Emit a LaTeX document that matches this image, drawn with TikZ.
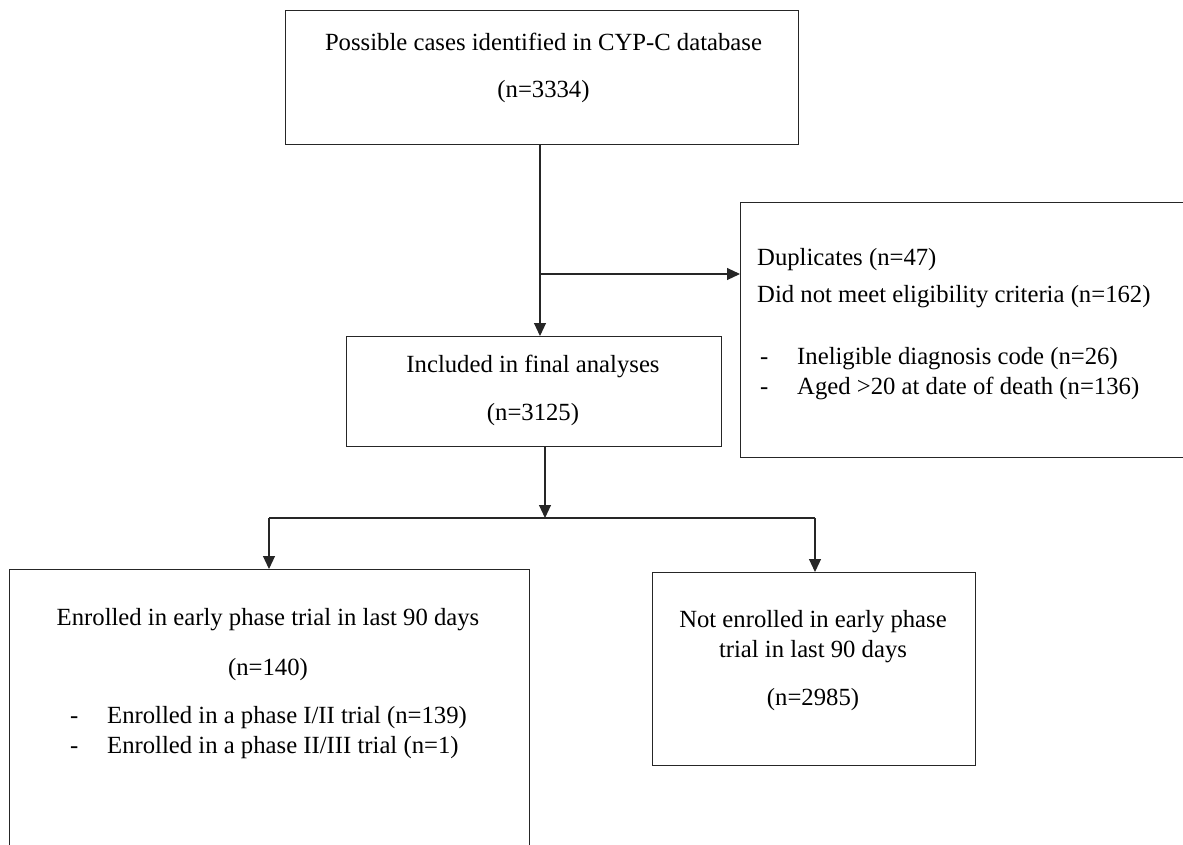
\documentclass[tikz,border=0pt]{standalone}
\usepackage{fontspec}
\setmainfont{Liberation Serif}
\usetikzlibrary{arrows.meta}
\tikzset{
  box/.style={draw=black!85, line width=1.1pt, rectangle, inner sep=0pt, anchor=north west},
  txt/.style={inner sep=0pt, anchor=base, font=\fontsize{24.7}{29}\selectfont, text=black},
  ltxt/.style={txt, anchor=base west},
  conn/.style={draw=black!85, line width=1.1pt},
  arr/.style={conn, -{Triangle[length=13pt,width=12pt]}}
}
\begin{document}
\begin{tikzpicture}[x=1pt,y=-1pt]
\useasboundingbox (0,0) rectangle (1183,844);
\clip (0,0) rectangle (1183,844);
% boxes
\node[box, minimum width=513pt, minimum height=134pt] (top) at (285,10) {};
\node[box, minimum width=375pt, minimum height=110pt] (incl) at (346,336) {};
\node[box, minimum width=470pt, minimum height=255pt] (excl) at (740,202) {};
\node[box, minimum width=520pt, minimum height=340pt] (enr) at (9,569) {};
\node[box, minimum width=323pt, minimum height=193pt] (notenr) at (652,572) {};
% texts
\node[txt] (t1) at (543.5,50) {Possible cases identified in CYP-C database};
\node[txt] (t2) at (543.5,97) {(n=3334)};
\node[txt] (i1) at (533,372) {Included in final analyses};
\node[txt] (i2) at (533,420) {(n=3125)};
\node[ltxt] (e1) at (757,265) {Duplicates (n=47)};
\node[ltxt] (e2) at (757,302) {Did not meet eligibility criteria (n=162)};
\node[ltxt] (e3d) at (760,364) {-};
\node[ltxt] (e3) at (797,364) {Ineligible diagnosis code (n=26)};
\node[ltxt] (e4d) at (760,394) {-};
\node[ltxt] (e4) at (797,394) {Aged >20 at date of death (n=136)};
\node[txt] (n1) at (268,625) {Enrolled in early phase trial in last 90 days};
\node[txt] (n2) at (268,675) {(n=140)};
\node[ltxt] (n3d) at (70,723) {-};
\node[ltxt] (n3) at (107,723) {Enrolled in a phase I/II trial (n=139)};
\node[ltxt] (n4d) at (70,753) {-};
\node[ltxt] (n4) at (107,753) {Enrolled in a phase II/III trial (n=1)};
\node[txt] (m1) at (813,627) {Not enrolled in early phase};
\node[txt] (m2) at (813,657) {trial in last 90 days};
\node[txt] (m3) at (813,705) {(n=2985)};
% connectors
\coordinate (j1) at (540,274);
\coordinate (j2) at (545,518);
\coordinate (jl) at (269,518);
\coordinate (jr) at (815,518);
\draw[arr] (top.south -| j1) -- (j1 |- incl.north);
\draw[arr] (j1) -- (j1 -| excl.west);
\draw[arr] (incl.south -| j2) -- (j2);
\draw[conn] (jl) -- (jr);
\draw[arr] (jl) -- (jl |- enr.north);
\draw[arr] (jr) -- (jr |- notenr.north);
\end{tikzpicture}
\end{document}
